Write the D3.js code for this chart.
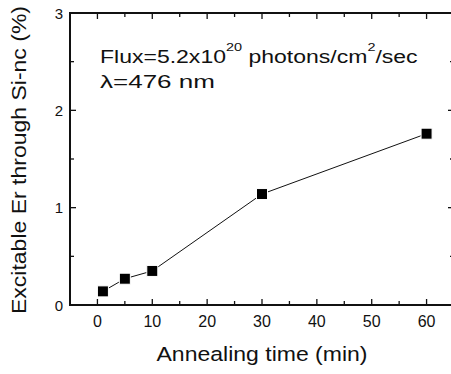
<!DOCTYPE html>
<html>
<head>
<meta charset="utf-8">
<script src="https://cdnjs.cloudflare.com/ajax/libs/d3/7.8.5/d3.min.js"></script>
<style>
  body { margin: 0; background: #fff; }
  text { font-family: "Liberation Sans", Arial, Helvetica, sans-serif; fill: #111; }
</style>
</head>
<body>
<div id="chart"></div>
<script>
// data
const annealTime = [1, 5, 10, 30, 60];
const excitableEr = [0.14, 0.27, 0.35, 1.14, 1.76];
const xTicks = [0, 10, 20, 30, 40, 50, 60];
const yTicks = [0, 1, 2, 3];

const width = 451;
const height = 374;
const margin = { top: 13, right: -3, bottom: 69, left: 70 };

const svg = d3.select("#chart").append("svg")
    .attr("width", width)
    .attr("height", height);

const x = d3.scaleLinear().domain([-5, 65]).range([margin.left, width - margin.right]);
const y = d3.scaleLinear().domain([0, 3]).range([height - margin.bottom, margin.top]);

const ink = "#111";

// stretch a text horizontally so it spans a given width
function fitWidth(sel, x0, w) {
    const bb = sel.node().getBBox();
    sel.attr("transform", `translate(${x0},0) scale(${w / bb.width},1) translate(${-bb.x},0)`);
}

// minor ticks (inward) on all four sides
const xMinor = d3.range(-5, 66, 5);
const yMinor = d3.range(0, 3.01, 0.5);

function tickLen(v, step) { return Math.abs(v / step - Math.round(v / step)) < 1e-6 ? 6 : 4; }

const ticks = svg.append("g").attr("stroke", ink).attr("stroke-width", 1.3);
xMinor.forEach(v => {
    const l = tickLen(v, 10);
    ticks.append("line").attr("x1", x(v)).attr("x2", x(v)).attr("y1", y(0)).attr("y2", y(0) - l);
    ticks.append("line").attr("x1", x(v)).attr("x2", x(v)).attr("y1", y(3)).attr("y2", y(3) + l);
});
yMinor.forEach(v => {
    const l = tickLen(v, 1);
    ticks.append("line").attr("x1", x(-5)).attr("x2", x(-5) + l).attr("y1", y(v)).attr("y2", y(v));
    ticks.append("line").attr("x1", x(65)).attr("x2", x(65) - l).attr("y1", y(v)).attr("y2", y(v));
});

// frame
svg.append("rect")
    .attr("x", x(-5)).attr("y", y(3))
    .attr("width", x(65) - x(-5)).attr("height", y(0) - y(3))
    .attr("fill", "none").attr("stroke", ink).attr("stroke-width", 2);

// tick labels
svg.append("g").selectAll("text").data(xTicks).join("text")
    .attr("x", d => x(d)).attr("y", y(0) + 22)
    .attr("text-anchor", "middle").attr("font-size", 16)
    .text(d => d);

svg.append("g").selectAll("text").data(yTicks).join("text")
    .attr("x", x(-5) - 7).attr("y", d => y(d) + 5.5)
    .attr("text-anchor", "end").attr("font-size", 15)
    .text(d => d);

// axis titles
svg.append("text")
    .attr("x", 262).attr("y", 361)
    .attr("text-anchor", "middle").attr("font-size", 20.5)
    .attr("textLength", 211).attr("lengthAdjust", "spacingAndGlyphs")
    .text("Annealing time (min)");

svg.append("text")
    .attr("transform", "translate(25.5,160) rotate(-90)")
    .attr("text-anchor", "middle").attr("font-size", 21)
    .attr("textLength", 308).attr("lengthAdjust", "spacingAndGlyphs")
    .text("Excitable Er through Si-nc (%)");

// line + markers
const pts = annealTime.map((t, i) => [t, excitableEr[i]]);
svg.append("path")
    .datum(pts)
    .attr("fill", "none").attr("stroke", ink).attr("stroke-width", 1)
    .attr("d", d3.line().x(d => x(d[0])).y(d => y(d[1])));

const s = 11;
svg.append("g").selectAll("rect").data(pts).join("rect")
    .attr("x", d => x(d[0]) - s / 2).attr("y", d => y(d[1]) - s / 2)
    .attr("width", s).attr("height", s)
    .attr("fill", "#000").attr("stroke", "#fff").attr("stroke-width", 1);

// annotation
const note = svg.append("text").attr("x", 0).attr("y", 63).attr("font-size", 17.5);
note.append("tspan").text("Flux=5.2x10");
note.append("tspan").attr("font-size", 11).attr("dy", -12).text("20");
note.append("tspan").attr("dy", 12).text(" photons/cm");
note.append("tspan").attr("font-size", 11).attr("dy", -12).text("2");
note.append("tspan").attr("dy", 12).text("/sec");
fitWidth(note, 100, 318);

const lam = svg.append("text").attr("x", 0).attr("y", 88).attr("font-size", 17.5)
    .text("λ=476 nm");
fitWidth(lam, 100, 115);
</script>
</body>
</html>
